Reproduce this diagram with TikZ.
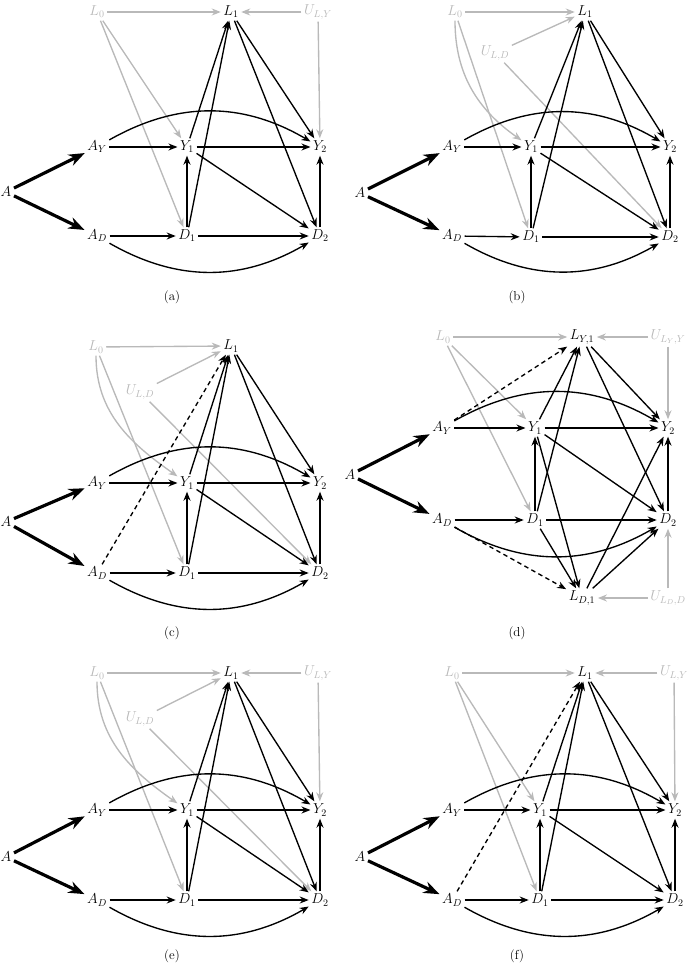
\documentclass[tikz,border=0pt]{standalone}
\usetikzlibrary{arrows.meta}
\definecolor{lg}{RGB}{185,185,185}
\newcommand\blkedges[1]{%
  \draw[te] (#1A) -- (#1AY);
  \draw[te] (#1A) -- (#1AD);
  \draw[e] (#1AY) -- (#1Y1);
  \draw[e] (#1AY) to[bend left=30] (#1Y2);
  \draw[e] (#1AD) -- (#1D1);
  \draw[e] (#1AD) to[bend right=30] (#1D2);
  \draw[e] (#1Y1) -- (#1Y2);
  \draw[e] (#1Y1) -- (#1D2);
  \draw[e] (#1D1) -- (#1Y1);
  \draw[e] (#1D1) -- (#1D2);
  \draw[e] (#1D2) -- (#1Y2);
  \draw[e] (#1Y1) -- (#1L1);
  \draw[e] (#1D1) -- (#1L1);
  \draw[e] (#1L1) -- (#1Y2);
  \draw[e] (#1L1) -- (#1D2);}
\begin{document}
\begin{tikzpicture}[x=1pt,y=-1pt,
  v/.style={inner sep=2.5pt,font=\fontsize{14}{17}\selectfont},
  gv/.style={v,text=lg},
  e/.style={-{Stealth[length=9pt,width=7pt]},line width=1.35pt},
  ge/.style={e,draw=lg},
  te/.style={-{Stealth[length=16pt,width=12pt]},line width=3.2pt},
  de/.style={e,dash pattern=on 4.5pt off 3.5pt},
  capt/.style={inner sep=0pt,font=\fontsize{13}{15}\selectfont}]
\useasboundingbox (0,0) rectangle (690,968);

% ---------- (a)
\node[v] (aA) at (6,192) {$A$};
\node[v] (aAY) at (97,147) {$A_Y$};
\node[v] (aAD) at (97,236) {$A_D$};
\node[v] (aY1) at (187,147) {$Y_1$};
\node[v] (aD1) at (187,236) {$D_1$};
\node[v] (aY2) at (320,147) {$Y_2$};
\node[v] (aD2) at (320,236) {$D_2$};
\node[gv] (aL0) at (97,12) {$L_0$};
\node[v] (aL1) at (231,12) {$L_1$};
\node[gv] (aU) at (318,12) {$U_{L,Y}$};
\node[capt] (acap) at (172,297) {(a)};
\draw[ge] (aL0) -- (aL1);
\draw[ge] (aU) -- (aL1);
\draw[ge] (aU) -- (aY2);
\draw[ge] (aL0) -- (aY1);
\draw[ge] (aL0) -- (aD1);
\blkedges{a}

% ---------- (b)
\node[v] (bA) at (360,193) {$A$};
\node[v] (bAY) at (452,147) {$A_Y$};
\node[v] (bAD) at (452,236) {$A_D$};
\node[v] (bY1) at (531,147) {$Y_1$};
\node[v] (bD1) at (531,237) {$D_1$};
\node[v] (bY2) at (670,147) {$Y_2$};
\node[v] (bD2) at (670,237) {$D_2$};
\node[gv] (bL0) at (455,12) {$L_0$};
\node[v] (bL1) at (585,12) {$L_1$};
\node[gv] (bU) at (495,53) {$U_{L,D}$};
\node[capt] (bcap) at (517,297) {(b)};
\draw[ge] (bL0) -- (bL1);
\draw[ge] (bU) -- (bL1);
\draw[ge] (bU) -- (bD2);
\draw[ge] (bL0) to[out=-90,in=145] (bY1);
\draw[ge] (bL0) -- (bD1);
\blkedges{b}

% ---------- (c)
\node[v] (cA) at (6,522) {$A$};
\node[v] (cAY) at (97,483) {$A_Y$};
\node[v] (cAD) at (97,573) {$A_D$};
\node[v] (cY1) at (187,483) {$Y_1$};
\node[v] (cD1) at (187,573) {$D_1$};
\node[v] (cY2) at (320,483) {$Y_2$};
\node[v] (cD2) at (320,573) {$D_2$};
\node[gv] (cL0) at (96,347) {$L_0$};
\node[v] (cL1) at (231,346) {$L_1$};
\node[gv] (cU) at (140,392) {$U_{L,D}$};
\node[capt] (ccap) at (172,633) {(c)};
\draw[ge] (cL0) -- (cL1);
\draw[ge] (cU) -- (cL1);
\draw[ge] (cU) -- (cD2);
\draw[ge] (cL0) to[out=-90,in=145] (cY1);
\draw[ge] (cL0) -- (cD1);
\blkedges{c}
\draw[de] (cAD) -- (cL1);

% ---------- (d)
\node[v] (dA) at (350,475) {$A$};
\node[v] (dAY) at (442,428) {$A_Y$};
\node[v] (dAD) at (442,520) {$A_D$};
\node[v] (dY1) at (535,428) {$Y_1$};
\node[v] (dD1) at (535,520) {$D_1$};
\node[v] (dY2) at (668,428) {$Y_2$};
\node[v] (dD2) at (668,520) {$D_2$};
\node[gv] (dL0) at (443,337) {$L_0$};
\node[v] (dLY) at (582,337) {$L_{Y,1}$};
\node[gv] (dUY) at (668,337) {$U_{L_Y,Y}$};
\node[v] (dLD) at (582,598) {$L_{D,1}$};
\node[gv] (dUD) at (668,598) {$U_{L_D,D}$};
\node[capt] (dcap) at (517,633) {(d)};
\draw[ge] (dL0) -- (dLY);
\draw[ge] (dUY) -- (dLY);
\draw[ge] (dUY) -- (dY2);
\draw[ge] (dL0) -- (dY1);
\draw[ge] (dL0) -- (dD1);
\draw[ge] (dUD) -- (dLD);
\draw[ge] (dUD) -- (dD2);
\draw[te] (dA) -- (dAY);
\draw[te] (dA) -- (dAD);
\draw[e] (dAY) -- (dY1);
\draw[e] (dAY) to[bend left=30] (dY2);
\draw[e] (dAD) -- (dD1);
\draw[e] (dAD) to[bend right=30] (dD2);
\draw[e] (dY1) -- (dY2);
\draw[e] (dY1) -- (dD2);
\draw[e] (dD1) -- (dY1);
\draw[e] (dD1) -- (dD2);
\draw[e] (dD2) -- (dY2);
\draw[e] (dY1) -- (dLY);
\draw[e] (dD1) -- (dLY);
\draw[e] (dLY) -- (dY2);
\draw[e] (dLY) -- (dD2);
\draw[e] (dY1) -- (dLD);
\draw[e] (dD1) -- (dLD);
\draw[e] (dLD) -- (dY2);
\draw[e] (dLD) -- (dD2);
\draw[de] (dAY) -- (dLY);
\draw[de] (dAD) -- (dLD);

% ---------- (e)
\node[v] (eA) at (6,857) {$A$};
\node[v] (eAY) at (97,810) {$A_Y$};
\node[v] (eAD) at (97,900) {$A_D$};
\node[v] (eY1) at (187,810) {$Y_1$};
\node[v] (eD1) at (187,900) {$D_1$};
\node[v] (eY2) at (320,810) {$Y_2$};
\node[v] (eD2) at (320,900) {$D_2$};
\node[gv] (eL0) at (97,673) {$L_0$};
\node[v] (eL1) at (231,673) {$L_1$};
\node[gv] (eUY) at (318,673) {$U_{L,Y}$};
\node[gv] (eUD) at (140,719) {$U_{L,D}$};
\node[capt] (ecap) at (172,956) {(e)};
\draw[ge] (eL0) -- (eL1);
\draw[ge] (eUY) -- (eL1);
\draw[ge] (eUY) -- (eY2);
\draw[ge] (eUD) -- (eL1);
\draw[ge] (eUD) -- (eD2);
\draw[ge] (eL0) to[out=-90,in=145] (eY1);
\draw[ge] (eL0) -- (eD1);
\blkedges{e}

% ---------- (f)
\node[v] (fA) at (360,857) {$A$};
\node[v] (fAY) at (452,810) {$A_Y$};
\node[v] (fAD) at (452,900) {$A_D$};
\node[v] (fY1) at (540,810) {$Y_1$};
\node[v] (fD1) at (540,900) {$D_1$};
\node[v] (fY2) at (675,810) {$Y_2$};
\node[v] (fD2) at (675,900) {$D_2$};
\node[gv] (fL0) at (452,673) {$L_0$};
\node[v] (fL1) at (585,673) {$L_1$};
\node[gv] (fUY) at (674,673) {$U_{L,Y}$};
\node[capt] (fcap) at (517,956) {(f)};
\draw[ge] (fL0) -- (fL1);
\draw[ge] (fUY) -- (fL1);
\draw[ge] (fUY) -- (fY2);
\draw[ge] (fL0) -- (fY1);
\draw[ge] (fL0) -- (fD1);
\blkedges{f}
\draw[de] (fAD) -- (fL1);
\end{tikzpicture}
\end{document}
